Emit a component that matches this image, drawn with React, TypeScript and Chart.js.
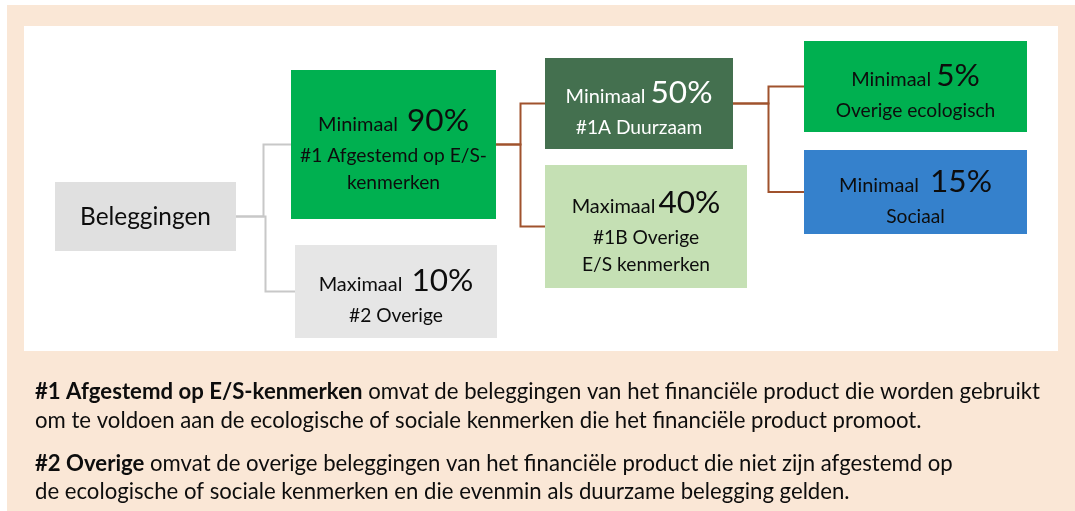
import React, { useEffect, useRef } from 'react';
import { Chart, registerables } from 'chart.js';

Chart.register(...registerables);

// ---------------- data ----------------
const nodeIds = ['beleggingen', 'afgestemd', 'overige', 'duurzaam', 'overigeES', 'ecologisch', 'sociaal'];
const nodeParents = [null, 'beleggingen', 'beleggingen', 'afgestemd', 'afgestemd', 'duurzaam', 'duurzaam'];
const nodeQualifiers = ['', 'Minimaal', 'Maximaal', 'Minimaal', 'Maximaal', 'Minimaal', 'Minimaal'];
const nodePercentages: (number | null)[] = [null, 90, 10, 50, 40, 5, 15];
const nodeLabels = [
  ['Beleggingen'],
  ['#1 Afgestemd op E/S-', 'kenmerken'],
  ['#2 Overige'],
  ['#1A Duurzaam'],
  ['#1B Overige', 'E/S kenmerken'],
  ['Overige ecologisch'],
  ['Sociaal'],
];

const footnoteBold = ['#1 Afgestemd op E/S-kenmerken', '#2 Overige'];
const footnoteRest = [
  ' omvat de beleggingen van het financiële product die worden gebruikt',
  ' omvat de overige beleggingen van het financiële product die niet zijn afgestemd op',
];
const footnoteContinuation = [
  'om te voldoen aan de ecologische of sociale kenmerken die het financiële product promoot.',
  'de ecologische of sociale kenmerken en die evenmin als duurzame belegging gelden.',
];

// ---------------- layout & style (axis units) ----------------
const W = 1075;
const H = 511;
const FONT = 'Lato, "Open Sans", "DejaVu Sans", sans-serif';
const TEXT = '#0d0d0d';

type Box = { x0: number; x1: number; y0: number; y1: number; fill: string; color: string; gap: number };
const BOX_LAYOUT: Record<string, Box> = {
  beleggingen: { x0: 55, x1: 236, y0: 182, y1: 251, fill: '#e0e0e0', color: TEXT, gap: 0 },
  afgestemd: { x0: 291, x1: 496, y0: 70, y1: 219, fill: '#00b050', color: TEXT, gap: 9 },
  overige: { x0: 295, x1: 497, y0: 245, y1: 338, fill: '#e6e6e6', color: TEXT, gap: 9 },
  duurzaam: { x0: 545, x1: 733, y0: 58, y1: 149, fill: '#44704f', color: '#ffffff', gap: 5 },
  overigeES: { x0: 545, x1: 747, y0: 165, y1: 288, fill: '#c5e0b4', color: TEXT, gap: 3 },
  ecologisch: { x0: 804, x1: 1027, y0: 41, y1: 132, fill: '#00b050', color: TEXT, gap: 5 },
  sociaal: { x0: 804, x1: 1027, y0: 150, y1: 234, fill: '#3581cc', color: TEXT, gap: 11 },
};
const CONNECTOR_COLOR: Record<string, string> = {
  beleggingen: '#c8c8c8',
  afgestemd: '#a0522d',
  duurzaam: '#a0522d',
};
const PANEL = { outer: { x0: 7, y0: 5, x1: 1075, y1: 511 }, inner: { x0: 24, y0: 26, x1: 1058, y1: 351 } };
const FOOTNOTE_X = 35;
const FOOTNOTE_RIGHT = 1041;
const FOOTNOTE_BASELINES = [[399, 428], [471, 499]];

// target widths used to size fonts (px)
const FIT = {
  root: { text: 'Beleggingen', width: 131 },
  qualifier: { text: 'Minimaal', width: 80 },
  pct: { text: '90%', width: 62 },
  label: { text: '#1 Afgestemd op E/S-', width: 187 },
};

function fitSize(ctx: CanvasRenderingContext2D, text: string, width: number, weight = '') {
  ctx.font = `${weight} 20px ${FONT}`;
  const w = ctx.measureText(text).width;
  return (20 * width) / w;
}

function buildConnectorDatasets() {
  const datasets: any[] = [];
  nodeIds.forEach((id, i) => {
    const parent = nodeParents[i];
    if (!parent) return;
    const p = BOX_LAYOUT[parent];
    const c = BOX_LAYOUT[id];
    const py = (p.y0 + p.y1) / 2;
    const cy = (c.y0 + c.y1) / 2;
    const bus = (p.x1 + c.x0) / 2;
    datasets.push({
      label: `${parent}-${id}`,
      data: [
        { x: p.x1, y: py },
        { x: bus, y: py },
        { x: bus, y: cy },
        { x: c.x0, y: cy },
      ],
      showLine: true,
      borderColor: CONNECTOR_COLOR[parent],
      borderWidth: 2,
      pointRadius: 0,
      tension: 0,
      fill: false,
      clip: false,
    });
  });
  return datasets;
}

const treePlugin = {
  id: 'treePlugin',
  beforeDatasetsDraw(chart: any) {
    const { ctx, scales } = chart;
    const X = (v: number) => scales.x.getPixelForValue(v);
    const Y = (v: number) => scales.y.getPixelForValue(v);
    ctx.save();
    ctx.fillStyle = '#ffffff';
    ctx.fillRect(X(0), Y(0), X(W) - X(0), Y(H) - Y(0));
    ctx.fillStyle = '#fae7d6';
    const o = PANEL.outer;
    ctx.fillRect(X(o.x0), Y(o.y0), X(o.x1) - X(o.x0), Y(o.y1) - Y(o.y0));
    ctx.fillStyle = '#ffffff';
    const n = PANEL.inner;
    ctx.fillRect(X(n.x0), Y(n.y0), X(n.x1) - X(n.x0), Y(n.y1) - Y(n.y0));
    nodeIds.forEach((id) => {
      const b = BOX_LAYOUT[id];
      ctx.fillStyle = b.fill;
      ctx.fillRect(X(b.x0), Y(b.y0), X(b.x1) - X(b.x0), Y(b.y1) - Y(b.y0));
    });
    ctx.restore();
  },
  afterDatasetsDraw(chart: any) {
    const { ctx, scales } = chart;
    const X = (v: number) => scales.x.getPixelForValue(v);
    const Y = (v: number) => scales.y.getPixelForValue(v);
    ctx.save();
    ctx.textBaseline = 'alphabetic';
    const rootSize = fitSize(ctx, FIT.root.text, FIT.root.width);
    const qSize = fitSize(ctx, FIT.qualifier.text, FIT.qualifier.width);
    const pSize = fitSize(ctx, FIT.pct.text, FIT.pct.width);
    const lSize = fitSize(ctx, FIT.label.text, FIT.label.width);

    nodeIds.forEach((id, i) => {
      const b = BOX_LAYOUT[id];
      const cx = X((b.x0 + b.x1) / 2);
      const cy = Y((b.y0 + b.y1) / 2);
      const labels = nodeLabels[i];
      const pct = nodePercentages[i];
      ctx.fillStyle = b.color;
      if (pct === null) {
        ctx.font = `${rootSize}px ${FONT}`;
        ctx.textAlign = 'center';
        ctx.fillText(labels[0], cx, cy + rootSize * 0.36);
        return;
      }
      const headerBase = cy - 0.5 - (labels.length - 1) * 13.5;
      const q = nodeQualifiers[i];
      const pctText = `${pct}%`;
      ctx.font = `${qSize}px ${FONT}`;
      const qw = ctx.measureText(q).width;
      ctx.font = `${pSize}px ${FONT}`;
      const pw = ctx.measureText(pctText).width;
      const total = qw + b.gap + pw;
      const start = cx - total / 2;
      ctx.textAlign = 'left';
      ctx.font = `${qSize}px ${FONT}`;
      ctx.fillText(q, start, headerBase);
      ctx.font = `${pSize}px ${FONT}`;
      ctx.fillText(pctText, start + qw + b.gap, headerBase);
      ctx.textAlign = 'center';
      ctx.font = `${lSize}px ${FONT}`;
      labels.forEach((l, j) => ctx.fillText(l, cx, headerBase + 31 + j * 27));
    });

    // footnotes
    ctx.font = `bold 20px ${FONT}`;
    const bw0 = ctx.measureText(footnoteBold[0]).width;
    ctx.font = `20px ${FONT}`;
    const rw0 = ctx.measureText(footnoteRest[0]).width;
    const fSize = (20 * (FOOTNOTE_RIGHT - FOOTNOTE_X)) / (bw0 + rw0);
    ctx.textAlign = 'left';
    ctx.fillStyle = TEXT;
    footnoteBold.forEach((bold, k) => {
      const [y1, y2] = FOOTNOTE_BASELINES[k];
      ctx.font = `bold ${fSize}px ${FONT}`;
      ctx.fillText(bold, X(FOOTNOTE_X), Y(y1));
      const bw = ctx.measureText(bold).width;
      ctx.font = `${fSize}px ${FONT}`;
      ctx.fillText(footnoteRest[k], X(FOOTNOTE_X) + bw, Y(y1));
      ctx.fillText(footnoteContinuation[k], X(FOOTNOTE_X), Y(y2));
    });
    ctx.restore();
  },
};

export default function App() {
  const ref = useRef<HTMLCanvasElement>(null);
  useEffect(() => {
    document.body.style.margin = '0';
    const canvas = ref.current!;
    const chart = new Chart(canvas, {
      type: 'scatter',
      data: { datasets: buildConnectorDatasets() },
      options: {
        animation: false,
        responsive: false,
        events: [],
        layout: { padding: 0 },
        plugins: { legend: { display: false }, tooltip: { enabled: false }, title: { display: false } },
        scales: {
          x: { type: 'linear', min: 0, max: W, display: false },
          y: { type: 'linear', min: 0, max: H, reverse: true, display: false },
        },
      },
      plugins: [treePlugin],
    } as any);
    return () => chart.destroy();
  }, []);
  return (
    <div style={{ position: 'absolute', left: 0, top: 0, width: W, height: H }}>
      <canvas ref={ref} width={W} height={H} style={{ display: 'block' }} />
    </div>
  );
}
